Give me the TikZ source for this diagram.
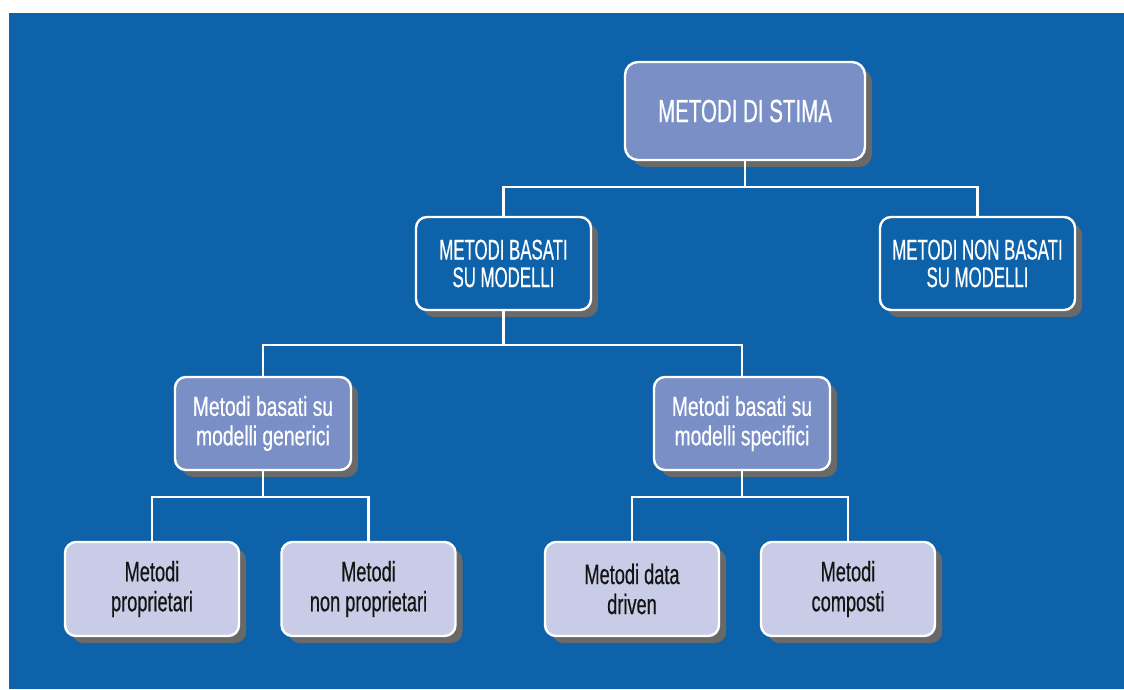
\documentclass[tikz,border=0pt]{standalone}
\usepackage{fontspec}
\setmainfont{Liberation Sans}
% condensed cuts of the same family for the box labels
\newfontfamily\condTop[FakeStretch=0.64,FakeBold=0.5]{Liberation Sans}
\newfontfamily\condCaps[FakeStretch=0.59,FakeBold=0.5]{Liberation Sans}
\newfontfamily\condMid[FakeStretch=0.70,FakeBold=0.5]{Liberation Sans}
\newfontfamily\condLow[FakeStretch=0.65,FakeBold=0.5]{Liberation Sans}

\definecolor{bgblue}{RGB}{14,98,169}
\definecolor{midfill}{RGB}{123,143,199}
\definecolor{lightfill}{RGB}{201,204,230}
\definecolor{shadowgray}{RGB}{105,105,105}
\definecolor{darktext}{RGB}{20,20,20}

\tikzset{
  box/.style={rectangle, rounded corners=11pt, draw=white, line width=2.4pt,
    align=center, inner sep=0pt,
    preaction={fill=shadowgray, transform canvas={shift={(7pt,-7pt)}}}},
  topbox/.style={box, rounded corners=13pt, fill=midfill, text=white,
    minimum width=240pt, minimum height=98pt,
    font=\condTop\fontsize{32}{36}\selectfont},
  capsbox/.style={box, fill=bgblue, text=white,
    minimum width=175pt, minimum height=93pt,
    font=\condCaps\fontsize{28.5}{27.6}\selectfont},
  midbox/.style={box, fill=midfill, text=white,
    minimum width=176pt, minimum height=93pt,
    font=\condMid\fontsize{27.5}{29.5}\selectfont},
  leafbox/.style={box, fill=lightfill, text=darktext,
    minimum width=174pt, minimum height=94pt,
    font=\condLow\fontsize{28}{30}\selectfont},
  link/.style={draw=white, line width=2.2pt}
}

\begin{document}
\begin{tikzpicture}[x=1pt,y=-1pt]
  % page and blue panel
  \useasboundingbox (0,0) rectangle (1124,689);
  \fill[white] (0,0) rectangle (1124,689);
  \fill[bgblue] (9,13) rectangle (1124,689);

  % boxes
  \node[topbox]  (stima)  at (745,111)   {METODI DI STIMA};
  \node[capsbox] (bas)    at (503.5,263.5) {METODI BASATI\\SU MODELLI};
  \node[capsbox, minimum width=195pt] (nonbas) at (977.5,263.5) {METODI NON BASATI\\SU MODELLI};
  \node[midbox]  (gen)    at (263,423.5) {Metodi basati su\\modelli generici};
  \node[midbox]  (spec)   at (742,423.5) {Metodi basati su\\modelli specifici};
  \node[leafbox] (prop)   at (152,589)   {Metodi\\proprietari};
  \node[leafbox] (nprop)  at (368.5,589) {Metodi\\non proprietari};
  \node[leafbox] (data)   at (632,589)   {Metodi data\\driven};
  \node[leafbox] (comp)   at (848,589)   {Metodi\\composti};

  % junction points of the tree
  \coordinate (j1) at (745,187);
  \coordinate (j2) at (503.5,345);
  \coordinate (j3) at (263,497);
  \coordinate (j4) at (742,497);

  % connectors
  \draw[link] (stima.south) -- (j1);
  \draw[link] (bas.north) |- (j1) -| (nonbas.north);
  \draw[link] (bas.south) -- (j2);
  \draw[link] (gen.north) |- (j2) -| (spec.north);
  \draw[link] (gen.south) -- (j3);
  \draw[link] (prop.north) |- (j3) -| (nprop.north);
  \draw[link] (spec.south) -- (j4);
  \draw[link] (data.north) |- (j4) -| (comp.north);
\end{tikzpicture}
\end{document}
